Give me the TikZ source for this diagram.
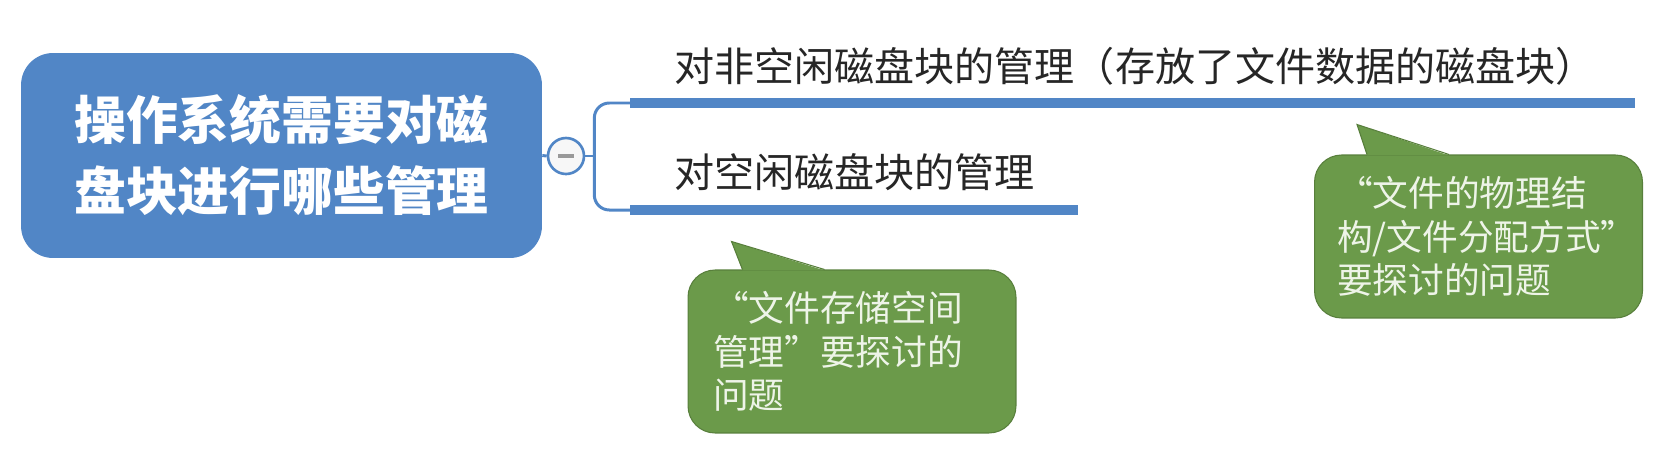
\documentclass[tikz,border=0pt]{standalone}
\usepackage{fontspec}
\setmainfont{Noto Sans CJK SC}
\newfontfamily\fwfont{Noto Sans CJK SC}[RawFeature=+fwid]
\usetikzlibrary{calc}

\definecolor{mapblue}{HTML}{5186C6}
\definecolor{notegreen}{HTML}{6B9A4A}
\definecolor{noteedge}{HTML}{587F3C}
\definecolor{notetext}{HTML}{EEF4E8}

\newcommand{\oquote}{{\fwfont “}}
\newcommand{\cquote}{{\fwfont ”}}

\tikzset{
  topic/.style={fill=mapblue, rounded corners=0.64cm, minimum width=10.42cm, minimum height=4.1cm,
    align=center, text=white, font=\bfseries\fontsize{29.5}{40.4}\selectfont},
  fold/.style={circle, draw=mapblue, line width=1.5pt, fill=gray!6, minimum size=0.72cm, inner sep=0pt},
  link/.style={draw=mapblue, line width=1.7pt},
  bar/.style={fill=mapblue, anchor=west, minimum height=0.2cm, inner sep=0pt},
  branch/.style={anchor=west, inner sep=0pt, text=black!85, font=\fontsize{22.8}{26}\selectfont},
  note/.style={fill=notegreen, draw=noteedge, line width=0.6pt, rounded corners=0.54cm,
    minimum width=6.56cm, minimum height=3.26cm, inner sep=0pt, align=left,
    text=notetext, font=\fontsize{20.3}{24.6}\selectfont}
}

\begin{document}
\begin{tikzpicture}[x=0.02cm, y=-0.02cm]
    \useasboundingbox (0,0) rectangle (1665,457);

    % central topic
    \node[topic] (topic) at (281.5,155.5) {操作系统需要对磁\\盘块进行哪些管理};

    % collapse button
    \node[fold] (fold) at (566,156) {};
    \draw[gray!80, line width=2pt] ($(fold)+(-8,0)$) -- ($(fold)+(8,0)$);
    \draw[link] (topic.east) -- (fold.west);

    % branches
    \node[bar, minimum width=20.1cm] (bar1) at (630,103) {};
    \node[bar, minimum width=8.96cm] (bar2) at (630,210) {};
    \draw[link] (fold.east) -- ++(9,0) coordinate (fork);
    \draw[link, rounded corners=0.3cm] (bar1.west) -| (fork) |- (bar2.west);

    \node[branch] (b1) at (674,66) {对非空闲磁盘块的管理（存放了文件数据的磁盘块）};
    \node[branch] (b2) at (674,172) {对空闲磁盘块的管理};

    % callout under the free-block branch
    \node[note, text width=5.56cm] (c1) at (852,351.5)
      {\oquote 文件存储空间\\管理\cquote 要探讨的\\问题};
    \fill[notegreen] ($(c1.north west)+(55,1)$) -- ($(c1.north west)+(44,-28)$) -- ($(c1.north west)+(137,1)$) -- cycle;
    \draw[noteedge, line width=0.6pt] ($(c1.north west)+(55,0)$) -- ($(c1.north west)+(44,-28)$) -- ($(c1.north west)+(137,0)$);

    % callout under the non-free-block branch
    \node[note, text width=5.66cm] (c2) at (1478.5,236.5)
      {\oquote 文件的物理结\\构/文件分配方式\cquote\\要探讨的问题};
    \fill[notegreen] ($(c2.north west)+(53,1)$) -- ($(c2.north west)+(43,-30)$) -- ($(c2.north west)+(135,1)$) -- cycle;
    \draw[noteedge, line width=0.6pt] ($(c2.north west)+(53,0)$) -- ($(c2.north west)+(43,-30)$) -- ($(c2.north west)+(135,0)$);
\end{tikzpicture}
\end{document}
